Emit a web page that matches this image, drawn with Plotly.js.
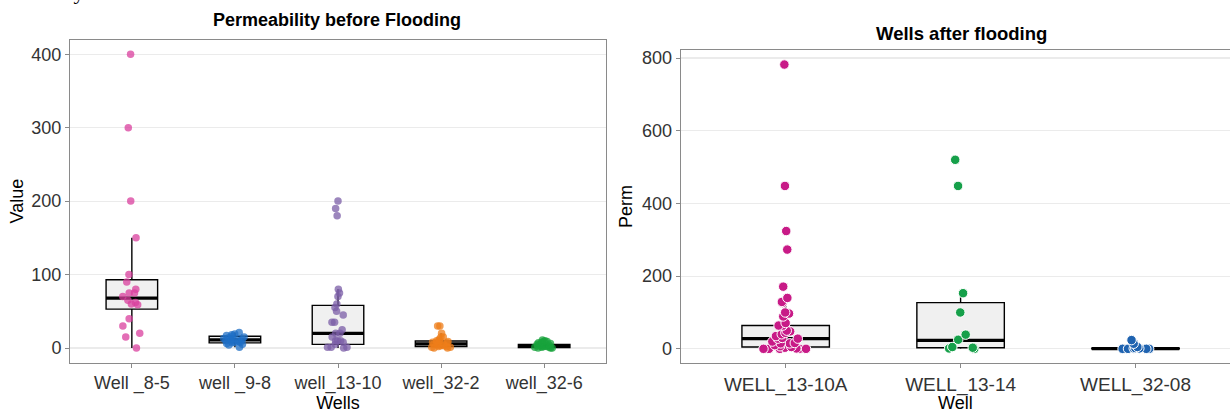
<!DOCTYPE html>
<html>
<head>
<meta charset="utf-8">
<script src="https://cdn.plot.ly/plotly-3.0.1.min.js"></script>
<style>
  html, body { margin: 0; padding: 0; background: #ffffff; }
  #chart { width: 1230px; height: 413px; }
</style>
</head>
<body>
<div id="chart"></div>
<script>
// ---------- Panel 1: Permeability before Flooding ----------
const wellsBefore = ['Well _8-5', 'well _9-8', 'well_13-10', 'well_32-2', 'well_32-6'];
const well_8_5   = [400, 300, 200, 150, 100, 90, 80, 75, 75, 70, 65, 62, 60, 59, 40, 30, 20, 15, 0];
const well_9_8   = [21, 19, 18, 17, 16, 15, 14, 13, 12, 12, 11, 10, 10, 9, 8, 8, 7, 6, 5, 4, 1];
const well_13_10 = [200, 190, 180, 80, 75, 70, 60, 55, 50, 45, 35, 35, 25, 20, 20, 15, 10, 10, 10, 8, 5, 1, 1, 1, 0];
const well_32_2  = [30, 30, 20, 15, 15, 12, 10, 10, 9, 8, 8, 7, 6, 5, 5, 4, 3, 3, 2, 2, 1, 1, 0, 0];
const well_32_6  = [11, 10, 9, 9, 8, 7, 7, 6, 5, 5, 4, 4, 3, 3, 2, 2, 2, 1, 1, 1, 0, 0, 0];
const beforeSeries = [well_8_5, well_9_8, well_13_10, well_32_2, well_32_6];
const beforeColors = ['#d93f9d', '#1f6fc5', '#7b5ea7', '#ee7d1a', '#18a33c'];
// box statistics
const beforeQ1     = [53, 7, 5, 2, 0.5];
const beforeMedian = [68, 11, 20, 5.5, 2.3];
const beforeQ3     = [93, 16, 58, 9.5, 5];
const beforeLower  = [0, 1, 0, 0, 0];
const beforeUpper  = [150, 21, 80, 20, 11];
const beforeTicks  = [0, 100, 200, 300, 400];

// ---------- Panel 2: Wells after flooding ----------
const wellsAfter = ['WELL_13-10A', 'WELL_13-14', 'WELL_32-08'];
const WELL_13_10A = [782, 448, 324, 273, 171, 140, 129, 126, 100, 97, 89, 71, 64, 64, 50, 48, 44, 40, 35, 30, 28, 28, 20, 16, 15, 15, 10, 7, 5, 3, 1, 0, 0, 0, 0, 0];
const WELL_13_14  = [520, 448, 153, 100, 39, 25, 5, 3, 1, 0];
const WELL_32_08  = [24, 14, 5, 2, 1, 1, 0, 0, 0, 0];
const afterSeries = [WELL_13_10A, WELL_13_14, WELL_32_08];
const afterColors = ['#c81a87', '#16a04a', '#1f63b0'];
const afterQ1     = [5, 3, 0];
const afterMedian = [28, 23.5, 0.5];
const afterQ3     = [64, 127, 1.5];
const afterLower  = [0, 0, 0];
const afterUpper  = [140, 151, 2];
const afterTicks  = [0, 200, 400, 600, 800];

const FONT = 'Liberation Sans, Arial, Helvetica, sans-serif';
const W = 1230, H = 413;
const px = v => v / W;
const py = v => (H - v) / H;

function statsBox(cats, q1, med, q3, lo, hi, xa, ya) {
  return {
    type: 'box', x: cats, q1: q1, median: med, q3: q3, lowerfence: lo, upperfence: hi,
    width: 0.5, whiskerwidth: 0, fillcolor: '#f0f0f0',
    line: {color: '#000000', width: 1.4},
    xaxis: xa, yaxis: ya, showlegend: false, hoverinfo: 'skip'
  };
}
function medianBar(cats, med, xa, ya) {
  return {
    type: 'box', x: cats, q1: med, median: med, q3: med, lowerfence: med, upperfence: med,
    width: 0.5, whiskerwidth: 0, fillcolor: 'rgba(0,0,0,0)',
    line: {color: '#000000', width: 3.2},
    xaxis: xa, yaxis: ya, showlegend: false, hoverinfo: 'skip'
  };
}
function pointsTrace(cat, vals, marker, width, xa, ya) {
  return {
    type: 'box', x: vals.map(() => cat), y: vals, name: cat,
    boxpoints: 'all', jitter: 1, pointpos: 0, width: width,
    line: {width: 0, color: 'rgba(0,0,0,0)'}, fillcolor: 'rgba(0,0,0,0)',
    marker: marker, xaxis: xa, yaxis: ya, showlegend: false, hoveron: 'points'
  };
}

const traces = [];
traces.push(statsBox(wellsBefore, beforeQ1, beforeMedian, beforeQ3, beforeLower, beforeUpper, 'x', 'y'));
traces.push(medianBar(wellsBefore, beforeMedian, 'x', 'y'));
wellsBefore.forEach((c, i) => {
  traces.push(pointsTrace(c, beforeSeries[i], {color: beforeColors[i], size: 7.5, opacity: 0.75, line: {width: 0}}, 0.24, 'x', 'y'));
});
traces.push(statsBox(wellsAfter, afterQ1, afterMedian, afterQ3, afterLower, afterUpper, 'x2', 'y2'));
traces.push(medianBar(wellsAfter, afterMedian, 'x2', 'y2'));
wellsAfter.forEach((c, i) => {
  traces.push(pointsTrace(c, afterSeries[i], {color: afterColors[i], size: 9.5, opacity: 1, line: {width: 1, color: '#ffffff'}}, 0.3, 'x2', 'y2'));
});

const axisCommon = {
  showline: true, linecolor: '#8a8a8a', linewidth: 1,
  ticks: 'outside', ticklen: 4, tickwidth: 1, tickcolor: '#8a8a8a',
  tickfont: {family: FONT, size: 18, color: '#333333'},
  zeroline: false, fixedrange: true
};

const layout = {
  width: W, height: H,
  margin: {l: 0, r: 0, t: 0, b: 0},
  paper_bgcolor: '#ffffff', plot_bgcolor: '#ffffff',
  font: {family: FONT, color: '#000000'},
  boxmode: 'overlay',
  showlegend: false,
  xaxis: Object.assign({}, axisCommon, {
    domain: [px(70), px(606)], anchor: 'y', type: 'category',
    categoryorder: 'array', categoryarray: wellsBefore,
    range: [-0.6, 4.6], mirror: true, showgrid: false,
    title: {text: 'Wells', font: {family: FONT, size: 18, color: '#000'}, standoff: 4}
  }),
  yaxis: Object.assign({}, axisCommon, {
    domain: [py(362.7), py(39.5)], anchor: 'x',
    range: [-20, 420], tickvals: beforeTicks, mirror: true,
    showgrid: true, gridcolor: '#ebebeb', gridwidth: 1.2,
    title: {text: 'Value', font: {family: FONT, size: 18, color: '#000'}, standoff: 3}
  }),
  xaxis2: Object.assign({}, axisCommon, {
    domain: [px(680.7), 1], anchor: 'y2', type: 'category',
    categoryorder: 'array', categoryarray: wellsAfter,
    range: [-0.6, 2.54], mirror: true, showgrid: false,
    tickfont: {family: FONT, size: 19, color: '#333333'},
    title: {text: 'Well', font: {family: FONT, size: 18, color: '#000'}, standoff: 4}
  }),
  yaxis2: Object.assign({}, axisCommon, {
    domain: [py(363), py(50)], anchor: 'x2',
    range: [-39, 822], tickvals: afterTicks, mirror: false,
    showgrid: true, gridcolor: '#ebebeb', gridwidth: 1.2,
    title: {text: 'Perm', font: {family: FONT, size: 18, color: '#000'}, standoff: 4}
  }),
  annotations: [
    {text: '<b>Permeability before Flooding</b>', xref: 'paper', yref: 'paper',
     x: px(337), y: py(20.5), xanchor: 'center', yanchor: 'middle', showarrow: false,
     font: {family: FONT, size: 18, color: '#000'}},
    {text: '<b>Wells after flooding</b>', xref: 'paper', yref: 'paper',
     x: px(961), y: py(33.5), xanchor: 'center', yanchor: 'middle', showarrow: false,
     font: {family: FONT, size: 18.5, color: '#000'}},
    {text: 'Summary', xref: 'paper', yref: 'paper',
     x: px(-3), y: py(6), xanchor: 'left', yanchor: 'bottom', showarrow: false,
     font: {family: 'Liberation Serif, Times New Roman, serif', size: 22, color: '#000'}}
  ]
};

Plotly.newPlot('chart', traces, layout, {displayModeBar: false, staticPlot: true});
</script>
</body>
</html>
